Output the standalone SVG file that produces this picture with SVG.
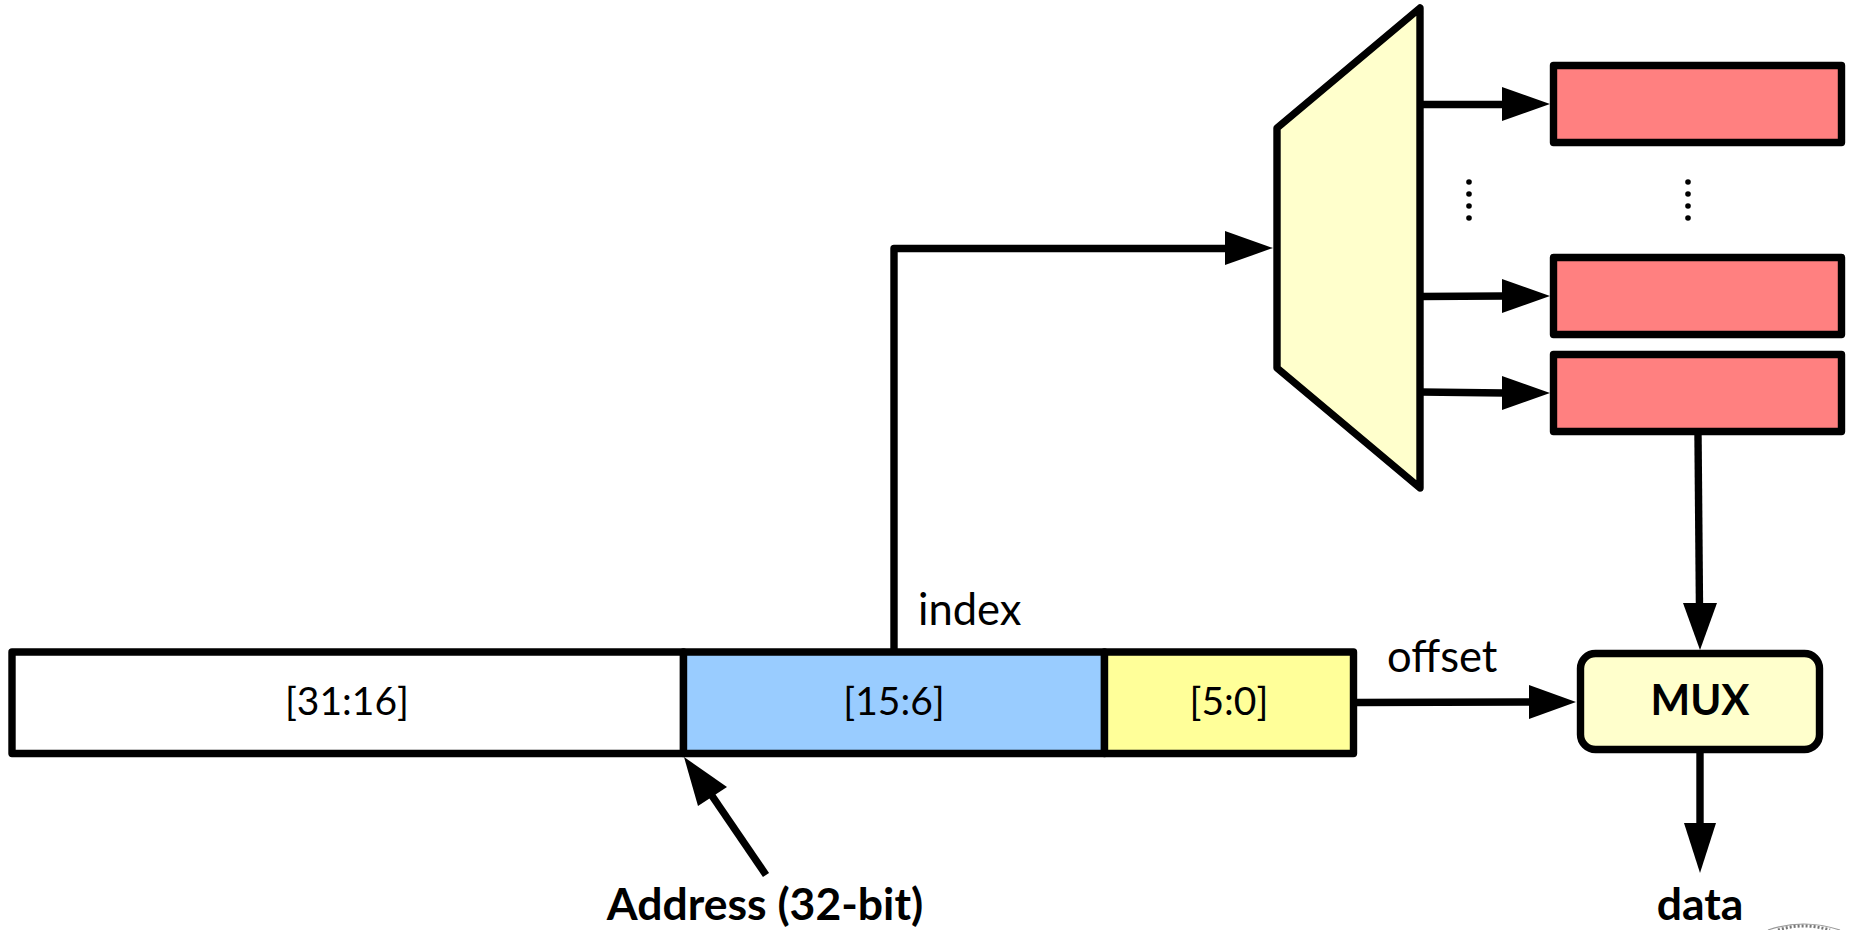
<svg xmlns="http://www.w3.org/2000/svg" width="1852" height="930" viewBox="0 0 1852 930">
<defs>
<style>
.box{stroke:#000;stroke-width:7.400;stroke-linejoin:round}
.w{stroke:#000;stroke-width:7.400;fill:none;stroke-linejoin:round}
.h{fill:#000}
.red{fill:#ff8080}
text{font-family:"Lato","Liberation Sans",sans-serif;fill:#000}
.f{font-size:39px}
.t{font-size:43.500px}
.b{font-size:44.500px;font-weight:700}
.m{text-anchor:middle}
</style>
</defs>
<rect width="1852" height="930" fill="#fff"/>
<g id="connectors">
<path class="w" d="M894 652V248.500H1230"/><path class="h" d="M1273 248L1225 231V265Z"/>
<path class="w" d="M1420 104.500H1505"/><path class="h" d="M1550 104L1502 87V121Z"/>
<path class="w" d="M1420 296.500L1505 296"/><path class="h" d="M1550 296L1502 279V313Z"/>
<path class="w" d="M1420 392L1505 393"/><path class="h" d="M1550 393L1502 376V410Z"/>
<path class="w" d="M1698 435L1699.500 610"/><path class="h" d="M1700 650L1683 603H1717Z"/>
<path class="w" d="M1357 702.500L1535 702"/><path class="h" d="M1576 702L1529 685V719Z"/>
<path class="w" d="M1700 753V830"/><path class="h" d="M1700 873L1684 823H1716Z"/>
<path class="w" d="M766 875L706 787"/><path class="h" d="M684 757L727 787L698 806Z"/>
</g>
<g id="mux-decoder"><path class="box" fill="#ffffcc" d="M1277 128L1420 8V488L1277 368Z"/></g>
<g id="row-1"><rect class="box red" x="1553.500" y="65.500" width="288" height="77"/></g>
<g id="row-2"><rect class="box red" x="1553.500" y="257.500" width="288" height="77"/></g>
<g id="row-3"><rect class="box red" x="1553.500" y="354.500" width="288" height="77"/></g>
<g id="dots-left"><circle cx="1469" cy="182" r="2.800"/><circle cx="1469" cy="194" r="2.800"/><circle cx="1469" cy="206" r="2.800"/><circle cx="1469" cy="218" r="2.800"/></g>
<g id="dots-right"><circle cx="1688" cy="182" r="2.800"/><circle cx="1688" cy="194" r="2.800"/><circle cx="1688" cy="206" r="2.800"/><circle cx="1688" cy="218" r="2.800"/></g>
<g id="addr-tag"><rect class="box" fill="#fff" x="12" y="652" width="671.500" height="101.500"/><text class="f m" x="347" y="714.500">[31:16]</text></g>
<g id="addr-index"><rect class="box" fill="#99ccff" x="683.500" y="652" width="421" height="101.500"/><text class="f m" x="894" y="714.500">[15:6]</text></g>
<g id="addr-offset"><rect class="box" fill="#ffff99" x="1104.500" y="652" width="249" height="101.500"/><text class="f m" x="1229" y="714.500">[5:0]</text></g>
<g id="mux"><rect class="box" fill="#ffffcc" x="1580.500" y="653.500" width="239" height="96" rx="15"/><text class="b m" x="1700" y="715" style="font-size:42px">MUX</text></g>
<g id="labels">
<text class="t" x="918" y="625">index</text>
<text class="t" x="1387" y="672">offset</text>
<text class="b m" x="765" y="920">Address (32-bit)</text>
<text class="b m" x="1700" y="920">data</text>
</g>
<g id="seal"><path d="M1768 930Q1803 918 1840 930" fill="none" stroke="#999" stroke-width="1.200"/><path d="M1778 930Q1803 922 1830 930" fill="none" stroke="#777" stroke-width="3" stroke-dasharray="2 2"/></g>
</svg>
